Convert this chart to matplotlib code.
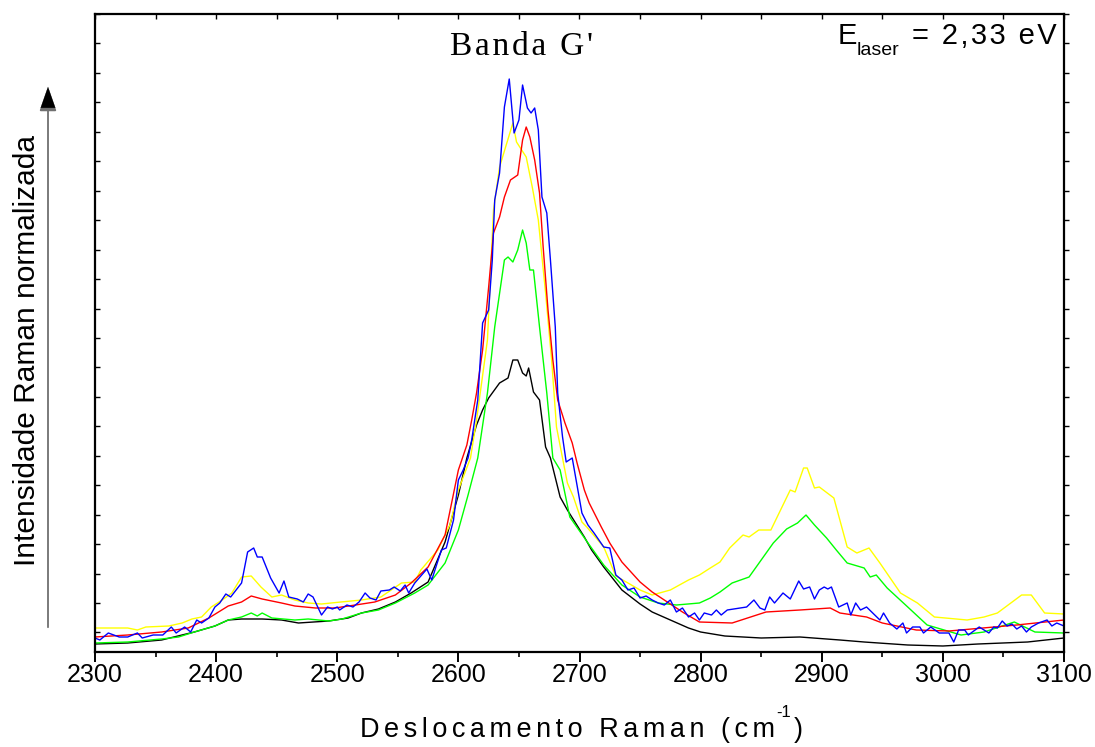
import numpy as np
import matplotlib
matplotlib.use("Agg")
import matplotlib.pyplot as plt
from matplotlib.patches import FancyArrowPatch

# ---------------- data (Raman shift in cm^-1, normalized intensity in a.u.) -------------
black_x = [2300, 2327, 2355, 2382, 2399, 2410, 2421, 2438, 2454, 2468, 2493, 2509, 2520, 2534, 2548,
           2561, 2575, 2589, 2600, 2607, 2615, 2620, 2625, 2634, 2641, 2645, 2649, 2653, 2656, 2658,
           2662, 2667, 2672, 2676, 2684, 2690, 2704, 2710, 2720, 2735, 2750, 2760, 2775, 2790, 2800,
           2820, 2850, 2882, 2915, 2935, 2971, 3000, 3029, 3070, 3100]
black_y = [0.8, 0.9, 1.2, 2.0, 2.6, 3.2, 3.3, 3.3, 3.2, 2.9, 3.1, 3.4, 3.9, 4.3, 5.0,
           5.9, 7.0, 11.0, 15.7, 19.4, 22.7, 24.2, 25.4, 26.9, 27.4, 29.2, 29.2, 27.9, 27.6, 28.4,
           26.0, 25.2, 20.5, 19.4, 15.5, 14.2, 11.5, 10.2, 8.5, 6.2, 4.8, 4.0, 3.2, 2.4, 2.0,
           1.6, 1.4, 1.5, 1.2, 1.0, 0.7, 0.6, 0.8, 1.0, 1.4]

red_x = [2300, 2327, 2355, 2377, 2394, 2410, 2421, 2429, 2438, 2454, 2465, 2482, 2498, 2515, 2531,
         2548, 2561, 2575, 2589, 2600, 2607, 2611, 2615, 2620, 2625, 2629, 2634, 2638, 2643, 2649,
         2653, 2656, 2659, 2663, 2667, 2670, 2674, 2678, 2682, 2688, 2694, 2698, 2704, 2708, 2718,
         2725, 2735, 2750, 2760, 2770, 2785, 2799, 2826, 2854, 2882, 2907, 2915, 2937, 2950, 2978,
         3005, 3033, 3061, 3100]
red_y = [1.5, 1.7, 2.0, 2.4, 3.4, 4.6, 5.0, 5.6, 5.3, 4.9, 4.6, 4.4, 4.4, 4.7, 5.0,
         5.7, 6.9, 8.5, 11.7, 18.2, 20.7, 23.2, 25.9, 30.2, 36.5, 41.9, 43.5, 45.5, 47.2, 47.7,
         51.2, 52.5, 51.5, 49.2, 45.9, 40.5, 34.2, 29.2, 25.2, 22.9, 20.9, 18.9, 16.2, 14.9, 12.5,
         10.9, 9.0, 7.0, 6.0, 5.2, 4.0, 3.0, 2.9, 4.0, 4.2, 4.4, 3.9, 3.5, 2.9, 2.2,
         2.1, 2.4, 2.7, 3.2]

yellow_x = [2300, 2327, 2335, 2342, 2361, 2372, 2380, 2388, 2396, 2405, 2413, 2421, 2429, 2437, 2446,
            2454, 2465, 2476, 2487, 2503, 2520, 2536, 2553, 2564, 2569, 2583, 2593, 2600, 2610, 2615,
            2624, 2629, 2634, 2640, 2645, 2648, 2656, 2661, 2666, 2672, 2677, 2681, 2690, 2695, 2702,
            2706, 2720, 2730, 2740, 2750, 2760, 2775, 2790, 2799, 2808, 2816, 2824, 2835, 2840, 2848,
            2858, 2874, 2878, 2885, 2888, 2894, 2898, 2910, 2921, 2929, 2939, 2948, 2965, 2979, 2993,
            3020, 3034, 3045, 3065, 3073, 3084, 3100]
yellow_y = [2.4, 2.4, 2.2, 2.5, 2.6, 2.9, 3.3, 3.5, 4.5, 5.2, 5.9, 7.5, 7.6, 6.5, 5.5,
            5.7, 5.2, 4.9, 4.8, 5.0, 5.2, 5.5, 6.9, 7.0, 8.2, 10.2, 12.7, 16.2, 19.4, 23.2,
            31.2, 44.2, 48.5, 50.9, 52.9, 51.0, 49.5, 46.5, 43.2, 35.9, 29.2, 22.5, 16.9, 15.5, 13.0,
            12.5, 10.5, 7.6, 6.9, 6.2, 5.7, 6.2, 7.2, 7.7, 8.4, 9.0, 10.4, 11.7, 11.5, 12.2,
            12.2, 16.2, 16.0, 18.4, 18.4, 16.4, 16.5, 15.4, 10.5, 9.9, 10.4, 8.9, 5.9, 4.9, 3.5,
            3.2, 3.5, 3.9, 5.7, 5.7, 3.9, 3.8]

green_x = [2300, 2327, 2355, 2369, 2382, 2399, 2410, 2421, 2429, 2434, 2438, 2446, 2465, 2476, 2493,
           2504, 2520, 2534, 2548, 2564, 2575, 2589, 2600, 2608, 2616, 2624, 2630, 2638, 2641, 2645,
           2649, 2653, 2656, 2659, 2662, 2667, 2673, 2678, 2684, 2692, 2707, 2720, 2735, 2750, 2765,
           2780, 2799, 2808, 2816, 2826, 2840, 2850, 2860, 2871, 2880, 2887, 2894, 2904, 2912, 2921,
           2935, 2940, 2945, 2954, 2971, 2987, 3015, 3034, 3059, 3076, 3100]
green_y = [0.9, 1.0, 1.3, 1.5, 2.0, 2.6, 3.2, 3.5, 3.9, 3.6, 3.9, 3.4, 3.2, 3.3, 3.1,
           3.3, 3.9, 4.2, 4.9, 5.9, 6.7, 8.9, 12.2, 15.7, 19.4, 25.9, 32.5, 39.2, 39.5, 39.0,
           40.2, 42.2, 40.9, 38.2, 38.2, 32.5, 25.9, 19.4, 18.2, 13.5, 10.9, 8.7, 6.7, 5.5, 4.9,
           4.7, 4.9, 5.4, 6.0, 6.9, 7.5, 9.2, 10.9, 12.3, 12.9, 13.7, 12.7, 11.4, 10.2, 8.9,
           8.4, 7.5, 7.7, 6.4, 4.5, 2.7, 1.7, 2.0, 3.0, 2.0, 1.9]

blue_x = [2300, 2304, 2311, 2320, 2327, 2335, 2339, 2348, 2356, 2363, 2367, 2374, 2379, 2384, 2388,
          2394, 2399, 2403, 2408, 2412, 2421, 2426, 2431, 2434, 2438, 2445, 2452, 2456, 2460, 2467,
          2472, 2476, 2480, 2487, 2492, 2496, 2500, 2502, 2508, 2513, 2518, 2523, 2527, 2532, 2536,
          2543, 2547, 2552, 2556, 2559, 2564, 2574, 2578, 2586, 2590, 2596, 2600, 2604, 2608, 2611,
          2616, 2620, 2625, 2628, 2630, 2634, 2638, 2642, 2646, 2650, 2653, 2657, 2660, 2663, 2666,
          2669, 2673, 2676, 2680, 2682, 2686, 2689, 2694, 2702, 2707, 2712, 2720, 2725, 2730, 2735,
          2740, 2745, 2750, 2755, 2760, 2765, 2770, 2775, 2780, 2785, 2790, 2795, 2799, 2803, 2809,
          2813, 2817, 2822, 2838, 2844, 2849, 2853, 2857, 2861, 2868, 2874, 2881, 2885, 2890, 2894,
          2898, 2902, 2905, 2908, 2914, 2921, 2924, 2928, 2932, 2937, 2948, 2951, 2956, 2962, 2967,
          2970, 2975, 2981, 2984, 2990, 2997, 3005, 3009, 3013, 3018, 3021, 3030, 3038, 3042, 3045,
          3049, 3053, 3057, 3061, 3065, 3069, 3073, 3079, 3086, 3090, 3094, 3100]
blue_y = [1.4, 1.2, 1.9, 1.5, 1.5, 1.9, 1.4, 1.7, 1.7, 2.5, 1.9, 2.5, 2.0, 3.2, 2.9,
          3.4, 4.5, 4.9, 5.8, 5.5, 6.9, 10.0, 10.4, 9.5, 9.5, 7.4, 5.9, 7.1, 5.5, 5.3,
          5.0, 5.8, 5.5, 3.7, 4.5, 4.3, 4.5, 4.2, 4.7, 4.5, 5.0, 5.9, 5.4, 5.2, 6.1,
          6.2, 6.5, 6.1, 6.7, 5.9, 6.9, 8.3, 7.2, 10.2, 10.4, 13.2, 17.2, 18.2, 19.4, 21.2,
          25.2, 32.9, 34.2, 39.2, 45.2, 47.9, 54.5, 57.3, 51.9, 53.2, 56.7, 54.4, 53.9, 54.4, 52.2,
          45.5, 43.9, 39.2, 32.5, 25.9, 21.5, 19.0, 19.4, 13.9, 12.7, 11.9, 10.5, 10.4, 7.7, 7.2,
          6.2, 6.4, 5.4, 5.6, 5.2, 4.9, 4.7, 5.2, 4.0, 4.4, 3.5, 3.9, 3.2, 3.9, 3.7,
          4.2, 3.7, 4.2, 4.5, 5.2, 4.4, 4.2, 5.5, 4.9, 5.9, 5.3, 7.1, 6.3, 6.5, 5.3,
          6.2, 6.5, 6.3, 6.5, 4.5, 4.9, 3.7, 4.9, 4.2, 4.5, 3.2, 3.9, 2.9, 2.3, 2.9,
          1.9, 2.5, 2.5, 1.9, 2.5, 1.9, 1.9, 1.0, 2.2, 2.2, 1.7, 2.5, 1.9, 2.5, 2.4,
          3.1, 2.6, 2.8, 2.3, 2.6, 2.0, 2.5, 2.9, 3.2, 2.6, 2.9, 2.6]

x_ticks = [2300, 2400, 2500, 2600, 2700, 2800, 2900, 3000, 3100]

title_text = "Banda G'"
xlabel_main = "Deslocamento Raman (cm"
xlabel_sup = "-1"
xlabel_end = ")"
ylabel_text = "Intensidade Raman normalizada"
elaser_main = "E"
elaser_sub = "laser"
elaser_value = "= 2,33 eV"

# ---------------- figure -------------------------------------------------------------
W, H = 1095, 747
fig = plt.figure(figsize=(W / 100, H / 100), dpi=100)
ax = fig.add_axes([95 / W, (H - 652) / H, (1064 - 95) / W, (652 - 14) / H])

lw = 1.0
ax.plot(black_x, black_y, color="black", lw=lw)
ax.plot(green_x, green_y, color="#00ff00", lw=lw)
ax.plot(yellow_x, yellow_y, color="#ffff00", lw=lw)
ax.plot(red_x, red_y, color="#ff0000", lw=lw)
ax.plot(blue_x, blue_y, color="#0000ff", lw=lw)

ax.set_xlim(2300, 3100)
ax.set_ylim(0, 63.8)
for s in ax.spines.values():
    s.set_linewidth(1.6)

fam = ["Liberation Sans", "DejaVu Sans"]
serif = ["Liberation Serif", "DejaVu Serif"]

# bottom x ticks (outward, majors every 100, minors every 50)
ax.set_xticks(x_ticks)
ax.set_xticks(np.arange(2300, 3101, 50), minor=True)
ax.tick_params(axis="x", which="major", direction="out", length=7, width=1.4,
               pad=1, labelsize=18, top=False)
ax.tick_params(axis="x", which="minor", direction="out", length=3.5, width=1.2, top=False)
for lab in ax.get_xticklabels():
    lab.set_family(fam)

# y ticks inward on the left, no labels
yt = 63.8 - 2.945 * np.arange(0, 22)
ax.set_yticks(yt)
ax.tick_params(axis="y", which="major", direction="in", length=3.5, width=1.0,
               labelleft=False, left=True, right=False)

# right ticks outward
axr = ax.twinx()
axr.set_ylim(ax.get_ylim())
axr.set_yticks(yt)
axr.tick_params(axis="y", direction="out", length=3.5, width=1.0, labelright=False)
for s in axr.spines.values():
    s.set_visible(False)

# top ticks inward every 50
axt = ax.twiny()
axt.set_xlim(ax.get_xlim())
axt.set_xticks(np.arange(2300, 3101, 50))
axt.tick_params(axis="x", direction="in", length=3.5, width=1.0, labeltop=False)
for s in axt.spines.values():
    s.set_visible(False)

# ---- texts
fig.canvas.draw()
r = fig.canvas.get_renderer()

SPACERS = ["", "\u200a", "\u2006", "\u2009", "\u2005", "\u200a\u200a", "\u2009\u200a",
           "\u2004", "\u2009\u2009"]


def spaced_text(x, y, s, target_w, **kw):
    """Create a text whose letters are spread so that its width is close to target_w px."""
    t = fig.text(x, y, s, **kw)
    best, best_err = s, None
    for sp in SPACERS:
        cand = sp.join(list(s))
        t.set_text(cand)
        err = abs(t.get_window_extent(r).width - target_w)
        if best_err is None or err < best_err:
            best, best_err = cand, err
    t.set_text(best)
    return t


# x label composed of main text, superscript and closing parenthesis
base_y = (H - 737) / H
t1 = spaced_text(0, base_y, xlabel_main, 403, ha="left", va="baseline", fontsize=19.5,
                 family=fam)
t2 = fig.text(0, (H - 717) / H, xlabel_sup, ha="left", va="baseline", fontsize=12, family=fam)
t3 = fig.text(0, base_y, xlabel_end, ha="left", va="baseline", fontsize=19.5, family=fam)
w1 = t1.get_window_extent(r).width
w2 = t2.get_window_extent(r).width
w3 = t3.get_window_extent(r).width
gap = 2
start = 581 - (w1 + w2 + w3 + 2 * gap) / 2
t1.set_x(start / W)
t2.set_x((start + w1 + gap) / W)
t3.set_x((start + w1 + w2 + 2 * gap) / W)

fig.text(27 / W, (H - 350) / H, ylabel_text, rotation=90, ha="center", va="center",
         fontsize=21.5, family=fam)

spaced_text(522 / W, (H - 55) / H, title_text, 146, ha="center", va="baseline",
            fontsize=24, family=serif)

fig.text(838 / W, (H - 44) / H, elaser_main, ha="left", va="baseline", fontsize=21, family=fam)
spaced_text(857 / W, (H - 55) / H, elaser_sub, 45, ha="left", va="baseline", fontsize=14,
            family=fam)
spaced_text(1057 / W, (H - 44) / H, elaser_value, 147, ha="right", va="baseline",
            fontsize=21, family=fam)

# arrow on the left
arrow = FancyArrowPatch((48 / W, (H - 630) / H), (48 / W, (H - 84) / H),
                        transform=fig.transFigure,
                        arrowstyle="-|>,head_length=10,head_width=3.5",
                        color="#707070", lw=1.3, mutation_scale=1.5)
fig.add_artist(arrow)
head = FancyArrowPatch((48 / W, (H - 110) / H), (48 / W, (H - 84) / H),
                       transform=fig.transFigure,
                       arrowstyle="-|>,head_length=10,head_width=3.5",
                       color="black", lw=0.1, mutation_scale=1.5)
fig.add_artist(head)

fig.savefig("out.png", dpi=100)
